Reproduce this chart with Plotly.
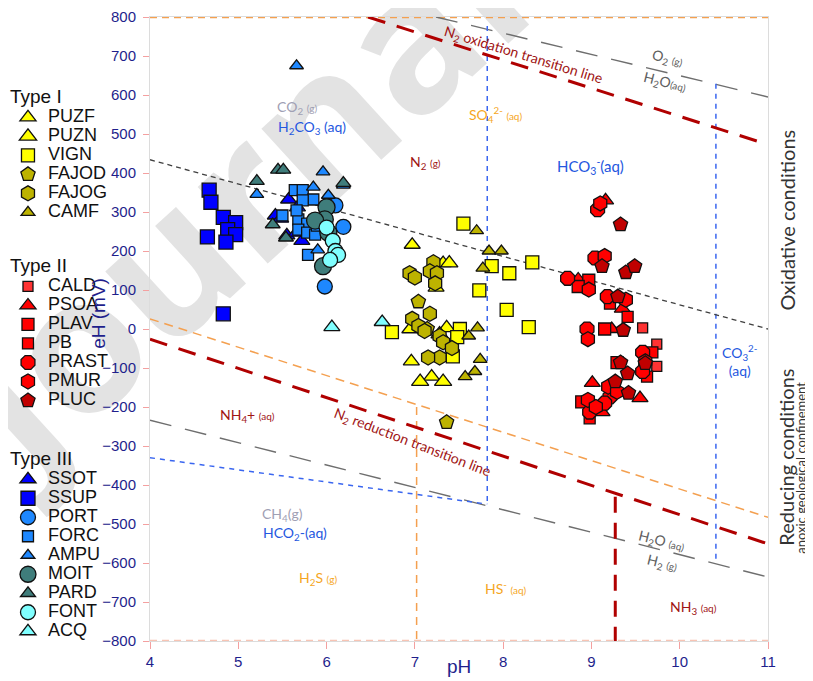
import plotly.graph_objects as go

# ---------------- data ----------------
# Type I
PUZF_PH = [6.97, 7.32, 7.24, 6.96, 7.19]
PUZF_EH = [216, 169, 106, -83, -122]
PUZN_PH = [7.39, 7.36, 7.28, 7.06, 7.32, 6.95]
PUZN_EH = [169, 3, -13, -135, -135, 0]
VIGN_PH = [7.55, 7.87, 8.07, 8.33, 7.73, 8.04, 8.29, 6.74, 7.51, 7.48, 7.43]
VIGN_EH = [270, 161, 143, 171, 99, 49, 5, -8, 0, -21, -70]
FAJOD_PH = [7.04, 7.36, 7.14]
FAJOD_EH = [70, -239, 0]
FAJOG_PH = [7.21, 7.17, 7.25, 6.94, 7.00, 7.23, 7.17, 6.97, 7.04, 7.11, 7.28, 7.32, 7.42, 7.28, 7.15]
FAJOG_EH = [171, 148, 143, 143, 132, 117, 39, 26, 8, -5, -18, -34, -49, -73, -73]
CAMF_PH = [7.70, 7.84, 7.98, 7.77, 7.71, 7.61, 7.74, 7.68, 7.57]
CAMF_EH = [252, 200, 200, 156, 3, -18, -78, -109, -122]

# Type II
CALD_PH = [9.58, 9.74, 9.74]
CALD_EH = [3, -39, -96]
PSOA_PH = [9.16, 8.85, 9.35, 9.01, 9.55, 9.12, 9.23]
PSOA_EH = [330, 127, 52, -138, -177, -213, 0]
PLAV_PH = [8.97, 8.85, 9.15, 9.29, 8.89]
PLAV_EH = [125, 109, 0, -86, -187]
PB_PH = [9.21, 9.41, 9.69, 9.63, 8.98]
PB_EH = [65, 31, -60, -122, -229]
PRAST_PH = [9.07, 9.04, 8.73, 9.18, 8.95, 9.58, 9.58, 9.21, 8.98, 9.15]
PRAST_EH = [306, 182, 130, 83, 0, -60, -109, -174, -213, -190]
PMUR_PH = [9.10, 9.15, 8.97, 9.39, 8.96, 9.61, 9.19, 8.96, 9.29, 9.05]
PMUR_EH = [322, 187, 101, 75, -26, -83, -148, -182, -161, -200]
PLUC_PH = [9.33, 9.12, 9.39, 9.49, 9.30, 9.36, 9.33, 9.41, 9.27, 9.42, 9.61]
PLUC_EH = [268, 161, 145, 161, 83, -3, -86, -114, -135, -164, -88]

# Type III
SSOT_PH = [5.57, 5.42, 5.55, 5.72, 5.67, 5.66, 5.48]
SSOT_EH = [332, 291, 240, 226, 312, 247, 283]
SSUP_PH = [4.67, 4.69, 4.83, 4.97, 4.88, 4.97, 4.65, 4.86, 4.83]
SSUP_EH = [356, 325, 286, 273, 255, 242, 236, 223, 39]
PORT_PH = [6.10, 6.19, 5.98]
PORT_EH = [317, 262, 109]
FORC_PH = [5.64, 5.73, 5.85, 5.73, 5.50, 5.68, 5.78, 5.68, 5.78, 5.87, 5.79, 5.66, 5.89]
FORC_EH = [356, 356, 332, 330, 291, 281, 270, 255, 247, 242, 190, 304, 265]
AMPU_PH = [5.66, 5.96, 6.19, 5.21, 5.85, 6.02, 5.90]
AMPU_EH = [675, 403, 369, 345, 364, 343, 203]
MOIT_PH = [6.00, 5.98, 5.87, 5.96, 6.02]
MOIT_EH = [312, 281, 278, 161, 247]
PARD_PH = [5.45, 5.51, 5.21, 5.39, 5.54, 6.19]
PARD_EH = [408, 408, 379, 268, 234, 374]
FONT_PH = [6.00, 6.07, 6.10, 6.13, 6.04]
FONT_EH = [260, 226, 200, 190, 177]
ACQ_PH = [6.06, 6.63]
ACQ_EH = [5, 18]

# Boundary lines (pH, eH end points)
O2_PH, O2_EH = [7.24, 11], [800, 595]
H2_PH, H2_EH = [4, 11], [-234, -636]
N2OX_PH, N2OX_EH = [6.47, 11], [800, 473]
N2RED_PH, N2RED_EH = [4, 11], [-26, -551]
SULF_PH, SULF_EH = [4, 11], [26, -483]
FORM_PH, FORM_EH = [4, 7.82], [-330, -449]
NEUT_PH, NEUT_EH = [4, 11], [434, 0]
CARB1_PH, CARB1_EH = [7.82, 7.82], [777, -449]
CARB2_PH, CARB2_EH = [10.41, 10.41], [629, -602]
SULFV_PH, SULFV_EH = [7.02, 7.02], [-200, -800]
NH3V_PH, NH3V_EH = [9.27, 9.27], [-430, -800]
TOP_PH, TOP_EH = [4, 11], [800, 800]
BOT_PH, BOT_EH = [4, 11], [-800, -800]

X_TICKS = [4, 5, 6, 7, 8, 9, 10, 11]
Y_TICKS = list(range(-800, 801, 100))

# ---------------- styles ----------------
NAVY = '#1f1f8c'
YEL, OLIVE = '#ffff00', '#bdb300'
RED, RED2, DRED = '#ff0000', '#ff3333', '#c00000'
BLUE, AZURE, TEAL, CYAN = '#0000ff', '#1e88ff', '#3f7d7b', '#80ffff'
LBL_FONT = 'Lato, Open Sans, sans-serif'
LEG_FONT = 'Liberation Sans, Arial, sans-serif'

series = [
    # name, x, y, symbol, color, size, legend
    ('PUZF', PUZF_PH, PUZF_EH, 'triangle-up', YEL, 14, 'legend'),
    ('PUZN', PUZN_PH, PUZN_EH, 'triangle-up', YEL, 15, 'legend'),
    ('VIGN', VIGN_PH, VIGN_EH, 'square', YEL, 13, 'legend'),
    ('FAJOD', FAJOD_PH, FAJOD_EH, 'pentagon', OLIVE, 15, 'legend'),
    ('FAJOG', FAJOG_PH, FAJOG_EH, 'hexagon', OLIVE, 15, 'legend'),
    ('CAMF', CAMF_PH, CAMF_EH, 'triangle-up', OLIVE, 12, 'legend'),
    ('CALD', CALD_PH, CALD_EH, 'square', RED2, 10, 'legend2'),
    ('PSOA', PSOA_PH, PSOA_EH, 'triangle-up', RED, 14, 'legend2'),
    ('PLAV', PLAV_PH, PLAV_EH, 'square', RED, 12, 'legend2'),
    ('PB', PB_PH, PB_EH, 'square', RED, 11, 'legend2'),
    ('PRAST', PRAST_PH, PRAST_EH, 'octagon', RED, 15, 'legend2'),
    ('PMUR', PMUR_PH, PMUR_EH, 'hexagon', RED, 15, 'legend2'),
    ('PLUC', PLUC_PH, PLUC_EH, 'pentagon', DRED, 15, 'legend2'),
    ('SSOT', SSOT_PH, SSOT_EH, 'triangle-up', BLUE, 14, 'legend3'),
    ('SSUP', SSUP_PH, SSUP_EH, 'square', BLUE, 14, 'legend3'),
    ('PORT', PORT_PH, PORT_EH, 'circle', AZURE, 15, 'legend3'),
    ('FORC', FORC_PH, FORC_EH, 'square', AZURE, 11, 'legend3'),
    ('AMPU', AMPU_PH, AMPU_EH, 'triangle-up', AZURE, 12, 'legend3'),
    ('MOIT', MOIT_PH, MOIT_EH, 'circle', TEAL, 17, 'legend3'),
    ('PARD', PARD_PH, PARD_EH, 'triangle-up', TEAL, 13, 'legend3'),
    ('FONT', FONT_PH, FONT_EH, 'circle', CYAN, 15, 'legend3'),
    ('ACQ', ACQ_PH, ACQ_EH, 'triangle-up', CYAN, 14, 'legend3'),
]

fig = go.Figure()


def add_line(x, y, color, width, dash):
    fig.add_trace(go.Scatter(x=x, y=y, mode='lines', showlegend=False, hoverinfo='skip',
                             line=dict(color=color, width=width, dash=dash)))


GRAY_L = '#6e6e6e'
ORANGE = '#f4a050'
BLUE_L = '#3a66f0'
add_line(TOP_PH, TOP_EH, ORANGE, 2.5, '7px,5px')
add_line(BOT_PH, BOT_EH, '#f8c4b4', 2.5, '7px,5px')
add_line(O2_PH, O2_EH, GRAY_L, 1.4, '22px,14px')
add_line(H2_PH, H2_EH, GRAY_L, 1.4, '22px,14px')
add_line(SULF_PH, SULF_EH, ORANGE, 1.5, '9px,6px')
add_line(SULFV_PH, SULFV_EH, ORANGE, 1.5, '8px,6px')
add_line(FORM_PH, FORM_EH, BLUE_L, 1.5, '5px,5px')
add_line(CARB1_PH, CARB1_EH, BLUE_L, 1.5, '5px,5px')
add_line(CARB2_PH, CARB2_EH, BLUE_L, 1.5, '5px,5px')
add_line(NEUT_PH, NEUT_EH, '#404040', 1.3, '5px,4px')
add_line(N2OX_PH, N2OX_EH, '#b00000', 3, '18px,12px')
add_line(N2RED_PH, N2RED_EH, '#b00000', 3, '18px,12px')
add_line(NH3V_PH, NH3V_EH, '#b00000', 3, '16px,10px')

for name, xs, ys, sym, col, size, leg in series:
    fig.add_trace(go.Scatter(
        x=xs, y=ys, mode='markers', legend=leg,
        name="<span style='font-size:18px'>%s</span>" % name,
        marker=dict(symbol=sym, color=col, size=size, line=dict(color='#111111', width=1.3)),
    ))

# ---------------- annotations ----------------
def lbl(x, y, text, color, size=14, angle=0):
    fig.add_annotation(x=x, y=y, xref='x', yref='y', text=text, showarrow=False,
                       xanchor='center', yanchor='middle',
                       textangle=angle, font=dict(family=LBL_FONT, size=size, color=color))


SM = "<span style='font-size:10px'>%s</span>"
GR = '#a0a0b4'
BL = '#2457e0'
OR = '#f5a623'
DR = '#a01414'
lbl(5.676, 569, 'CO<sub>2</sub> ' + SM % '(g)', GR)
lbl(5.835, 517, 'H<sub>2</sub>CO<sub>3</sub> (aq)', BL)
lbl(7.908, 551, 'SO<sub>4</sub><sup>2-</sup> ' + SM % '(aq)', OR)
lbl(7.115, 426, 'N<sub>2</sub> ' + SM % '(g)', DR)
lbl(8.984, 416, 'HCO<sub>3</sub><sup>-</sup>(aq)', BL, 15)
lbl(8.236, 701, 'N<sub>2</sub> oxidation transition line', DR, 14, 17)
lbl(9.856, 694, 'O<sub>2</sub> ' + SM % '(g)', '#606060', 14, 14)
lbl(9.833, 631, 'H<sub>2</sub>O' + SM % '(aq)', '#606060', 14, 14)
lbl(10.68, -81, 'CO<sub>3</sub><sup>2-</sup><br>(aq)', BL)
lbl(5.099, -223, 'NH<sub>4</sub>+ ' + SM % '(aq)', DR)
lbl(6.967, -291, 'N<sub>2</sub> reduction transition line', DR, 14, 21)
lbl(5.506, -475, 'CH<sub>4</sub>(g)', GR)
lbl(5.642, -525, 'HCO<sub>2</sub>-(aq)', BL)
lbl(5.903, -639, 'H<sub>2</sub>S ' + SM % '(g)', OR)
lbl(8.032, -662, 'HS<sup>-</sup> ' + SM % '(aq)', OR)
lbl(9.799, -545, 'H<sub>2</sub>O ' + SM % '(aq)', '#606060', 14, 14)
lbl(9.81, -600, 'H<sub>2</sub> ' + SM % '(g)', '#606060', 14, 14)
lbl(10.16, -714, 'NH<sub>3</sub> ' + SM % '(aq)', DR)

# redox arrows on the right
for y0, y1 in [(5, 592), (-8, -636)]:
    fig.add_annotation(x=11.01, y=y1, ax=11.01, ay=y0, xref='x', yref='y', axref='x', ayref='y',
                       text='', showarrow=True, arrowhead=2, startarrowhead=2, arrowside='end+start',
                       arrowsize=1, startarrowsize=1, arrowwidth=1.2, arrowcolor='#222222')


def pap(text, px, py, size, color, angle=0, family=LBL_FONT):
    fig.add_annotation(x=(px - 150) / 618, y=(633 - py) / 616, xref='paper', yref='paper',
                       xanchor='center', yanchor='middle',
                       text=text, showarrow=False, textangle=angle,
                       font=dict(family=family, size=size, color=color))


pap('Oxidative conditions', 787, 218, 20, '#333333', -90)
pap('Reducing conditions', 786, 452, 20, '#333333', -90)
pap('anoxic geological confinement', 801, 462, 13, '#333333', -90)
pap('eH (mV)', 99, 310, 19, NAVY, -90, LEG_FONT)
pap('pH', 459, 658, 19, NAVY, 0, LEG_FONT)

# watermark (behind the data)
fig.add_shape(type='line', xref='paper', yref='paper', layer='below',
              x0=-0.2427, y0=0.344, x1=0.550, y1=1.062,
              line=dict(color='rgba(0,0,0,0)', width=0),
              label=dict(text='<b>Journal</b>', textposition='middle', yanchor='middle',
                         font=dict(family='Open Sans, sans-serif', size=190, color='#e3e3e3')))

# ---------------- layout ----------------
axis_common = dict(showgrid=False, zeroline=False, showline=True, linecolor='#dcdcdc', linewidth=1,
                   mirror=True, ticks='outside', tickcolor='#f4a0a0', tickwidth=1.2,
                   tickfont=dict(family=LEG_FONT, size=15, color=NAVY))

# the page body has an 8px margin, so the figure is 8px smaller and its margins 8px less
fig.update_layout(
    width=805, height=673,
    margin=dict(l=142, r=45, t=9, b=40, autoexpand=False),
    paper_bgcolor='white', plot_bgcolor='rgba(0,0,0,0)',
    xaxis=dict(range=[4, 11], tickvals=X_TICKS, ticklen=7, automargin=False, **axis_common),
    yaxis=dict(range=[-800, 800], tickvals=Y_TICKS, ticklen=6, ticklabelstandoff=4, automargin=False, **axis_common),
    showlegend=True,
)

leg_common = dict(xanchor='left', yanchor='top', bgcolor='rgba(0,0,0,0)', itemsizing='trace',
                  font=dict(family=LEG_FONT, size=11, color='#111111'), tracegroupgap=0)
LX = -0.2298
fig.update_layout(
    legend=dict(x=LX, y=0.902, title=dict(text='Type I', font=dict(family=LEG_FONT, size=19, color='#111')), **leg_common),
    legend2=dict(x=LX, y=0.631, title=dict(text='Type II', font=dict(family=LEG_FONT, size=19, color='#111')), **leg_common),
    legend3=dict(x=LX, y=0.322, title=dict(text='Type III', font=dict(family=LEG_FONT, size=19, color='#111')), **leg_common),
)

fig.write_html("out.html")
